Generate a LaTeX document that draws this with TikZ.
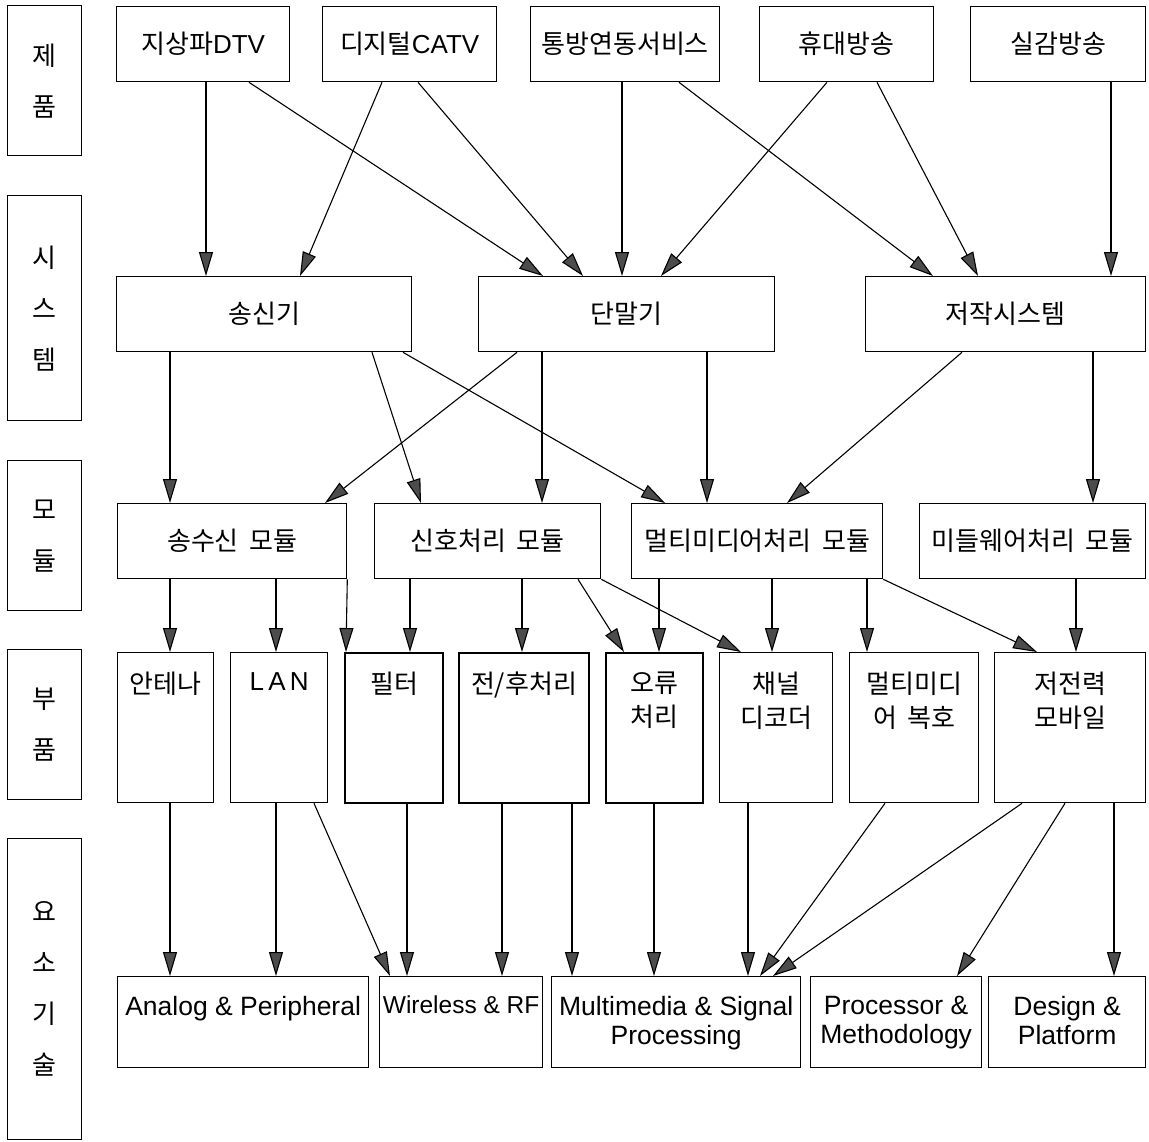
\documentclass[tikz,border=0pt]{standalone}
\usepackage{fontspec}
\setmainfont[WordSpace=1.8]{Noto Sans CJK KR}
\newfontfamily\lat{Liberation Sans}
\usetikzlibrary{arrows.meta}
\begin{document}
\begin{tikzpicture}[x=1pt,y=-1pt,
  box/.style={draw,rectangle,inner sep=0pt,anchor=north west,line width=1.3pt},
  hbox/.style={box,minimum height=75pt,font=\fontsize{26}{30}\selectfont},
  side/.style={box,minimum width=74pt,align=center,font=\fontsize{26}{51}\selectfont},
  part/.style={box,minimum height=150pt},
  ptxt/.style={anchor=north,inner sep=0pt,align=center,font=\fontsize{26}{34}\selectfont},
  tech/.style={box,minimum height=91pt},
  ttxt/.style={anchor=north,inner sep=0pt,align=center,font=\lat\fontsize{26.5}{29}\selectfont},
  arr/.style={line width=1.1pt,-{Triangle[length=24pt,width=14pt,fill=black!70]}}]
\useasboundingbox (0,0) rectangle (1149,1141);
\node[side,minimum height=150pt] (lbl-prod) at (7,5) {제\\품};
\node[side,minimum height=225pt] (lbl-sys) at (7,195) {시\\스\\템};
\node[side,minimum height=150pt] (lbl-mod) at (7,460) {모\\듈};
\node[side,minimum height=150pt] (lbl-part) at (7,649) {부\\품};
\node[side,minimum height=301pt] (lbl-tech) at (7,838) {요\\소\\기\\술};
\node[hbox,minimum width=173pt] (dtv) at (116,6) {지상파{\lat DTV}};
\node[hbox,minimum width=174pt] (catv) at (322,6) {디지털{\lat CATV}};
\node[hbox,minimum width=189pt] (svc) at (530,6) {통방연동서비스};
\node[hbox,minimum width=174pt] (mob) at (759,6) {휴대방송};
\node[hbox,minimum width=175pt] (real) at (970,6) {실감방송};
\node[hbox,minimum width=295pt] (tx) at (116,276) {송신기};
\node[hbox,minimum width=296pt] (term) at (478,276) {단말기};
\node[hbox,minimum width=280pt] (auth) at (865,276) {저작시스템};
\node[hbox,minimum width=229pt] (trx) at (117,503) {송수신 모듈};
\node[hbox,minimum width=226pt] (sig) at (374,503) {신호처리 모듈};
\node[hbox,minimum width=251pt] (mm) at (631,503) {멀티미디어처리 모듈};
\node[hbox,minimum width=226pt] (mw) at (919,503) {미들웨어처리 모듈};
\node[part,minimum width=96pt] (ant) at (117,652) {};
\node[ptxt] (ant-t) at ([yshift=-20pt]ant.north) {안테나};
\node[part,minimum width=97pt] (lan) at (230,652) {};
\node[ptxt] (lan-t) at ([yshift=-20pt]lan.north) {\lat L\,A\,N};
\node[part,minimum width=98pt,line width=2pt] (filt) at (344,652) {};
\node[ptxt] (filt-t) at ([yshift=-20pt]filt.north) {필터};
\node[part,minimum width=130pt,line width=2pt] (pre) at (458,652) {};
\node[ptxt] (pre-t) at ([yshift=-20pt]pre.north) {전/후처리};
\node[part,minimum width=97pt,line width=2pt] (err) at (605,652) {};
\node[ptxt] (err-t) at ([yshift=-20pt]err.north) {오류\\처리};
\node[part,minimum width=113pt] (chdec) at (719,652) {};
\node[ptxt] (chdec-t) at ([yshift=-20pt]chdec.north) {채널\\디코더};
\node[part,minimum width=129pt] (mmdec) at (849,652) {};
\node[ptxt] (mmdec-t) at ([yshift=-20pt]mmdec.north) {멀티미디\\어 복호};
\node[part,minimum width=151pt] (lowp) at (994,652) {};
\node[ptxt] (lowp-t) at ([yshift=-20pt]lowp.north) {저전력\\모바일};
\node[tech,minimum width=251pt] (analog) at (117,976) {};
\node[ttxt] (analog-t) at ([yshift=-20pt]analog.north) {Analog \& Peripheral};
\node[tech,minimum width=163pt] (wrf) at (379,976) {};
\node[ttxt,font=\lat\fontsize{24.5}{29}\selectfont] (wrf-t) at ([yshift=-20pt]wrf.north) {Wireless \& RF};
\node[tech,minimum width=249pt] (msp) at (551,976) {};
\node[ttxt] (msp-t) at ([yshift=-20pt]msp.north) {Multimedia \& Signal\\Processing};
\node[tech,minimum width=171pt] (proc) at (810,976) {};
\node[ttxt] (proc-t) at ([yshift=-20pt]proc.north) {Processor \&\\Methodology};
\node[tech,minimum width=157pt] (dsn) at (988,976) {};
\node[ttxt] (dsn-t) at ([yshift=-20pt]dsn.north) {Design \&\\Platform};
\draw[arr] ([xshift=90pt]dtv.south west) -- ([xshift=90pt]tx.north west);
\draw[arr] ([xshift=133pt]dtv.south west) -- ([xshift=65pt]term.north west);
\draw[arr] ([xshift=60pt]catv.south west) -- ([xshift=184pt]tx.north west);
\draw[arr] ([xshift=96pt]catv.south west) -- ([xshift=105pt]term.north west);
\draw[arr] ([xshift=92pt]svc.south west) -- ([xshift=144pt]term.north west);
\draw[arr] ([xshift=149pt]svc.south west) -- ([xshift=68pt]auth.north west);
\draw[arr] ([xshift=68pt]mob.south west) -- ([xshift=183pt]term.north west);
\draw[arr] ([xshift=118pt]mob.south west) -- ([xshift=113pt]auth.north west);
\draw[arr] ([xshift=141pt]real.south west) -- ([xshift=246pt]auth.north west);
\draw[arr] ([xshift=54pt]tx.south west) -- ([xshift=53pt]trx.north west);
\draw[arr] ([xshift=256pt]tx.south west) -- ([xshift=47pt]sig.north west);
\draw[arr] ([xshift=287pt]tx.south west) -- ([xshift=34pt]mm.north west);
\draw[arr] ([xshift=39pt]term.south west) -- ([xshift=208pt]trx.north west);
\draw[arr] ([xshift=64pt]term.south west) -- ([xshift=168pt]sig.north west);
\draw[arr] ([xshift=229pt]term.south west) -- ([xshift=76pt]mm.north west);
\draw[arr] ([xshift=97pt]auth.south west) -- ([xshift=156pt]mm.north west);
\draw[arr] ([xshift=228pt]auth.south west) -- ([xshift=174pt]mw.north west);
\draw[arr] ([xshift=53pt]trx.south west) -- ([xshift=53pt]ant.north west);
\draw[arr] ([xshift=159pt]trx.south west) -- ([xshift=46pt]lan.north west);
\draw[arr] (trx.south east) -- ([xshift=2pt]filt.north west);
\draw[arr] ([xshift=36pt]sig.south west) -- ([xshift=66pt]filt.north west);
\draw[arr] ([xshift=148pt]sig.south west) -- ([xshift=64pt]pre.north west);
\draw[arr] ([xshift=204pt]sig.south west) -- ([xshift=19pt]err.north west);
\draw[arr] (sig.south east) -- ([xshift=22pt]chdec.north west);
\draw[arr] ([xshift=28pt]mm.south west) -- ([xshift=54pt]err.north west);
\draw[arr] ([xshift=141pt]mm.south west) -- ([xshift=53pt]chdec.north west);
\draw[arr] ([xshift=236pt]mm.south west) -- ([xshift=18pt]mmdec.north west);
\draw[arr] (mm.south east) -- ([xshift=43pt]lowp.north west);
\draw[arr] ([xshift=157pt]mw.south west) -- ([xshift=82pt]lowp.north west);
\draw[arr] ([xshift=53pt]ant.south west) -- ([xshift=53pt]analog.north west);
\draw[arr] ([xshift=46pt]lan.south west) -- ([xshift=159pt]analog.north west);
\draw[arr] ([xshift=84pt]lan.south west) -- ([xshift=11pt]wrf.north west);
\draw[arr] ([xshift=63pt]filt.south west) -- ([xshift=28pt]wrf.north west);
\draw[arr] ([xshift=44pt]pre.south west) -- ([xshift=123pt]wrf.north west);
\draw[arr] ([xshift=114pt]pre.south west) -- ([xshift=21pt]msp.north west);
\draw[arr] ([xshift=49pt]err.south west) -- ([xshift=103pt]msp.north west);
\draw[arr] ([xshift=29pt]chdec.south west) -- ([xshift=197pt]msp.north west);
\draw[arr] ([xshift=36pt]mmdec.south west) -- ([xshift=209pt]msp.north west);
\draw[arr] ([xshift=28pt]lowp.south west) -- ([xshift=222pt]msp.north west);
\draw[arr] ([xshift=71pt]lowp.south west) -- ([xshift=147pt]proc.north west);
\draw[arr] ([xshift=120pt]lowp.south west) -- ([xshift=126pt]dsn.north west);
\end{tikzpicture}
\end{document}
